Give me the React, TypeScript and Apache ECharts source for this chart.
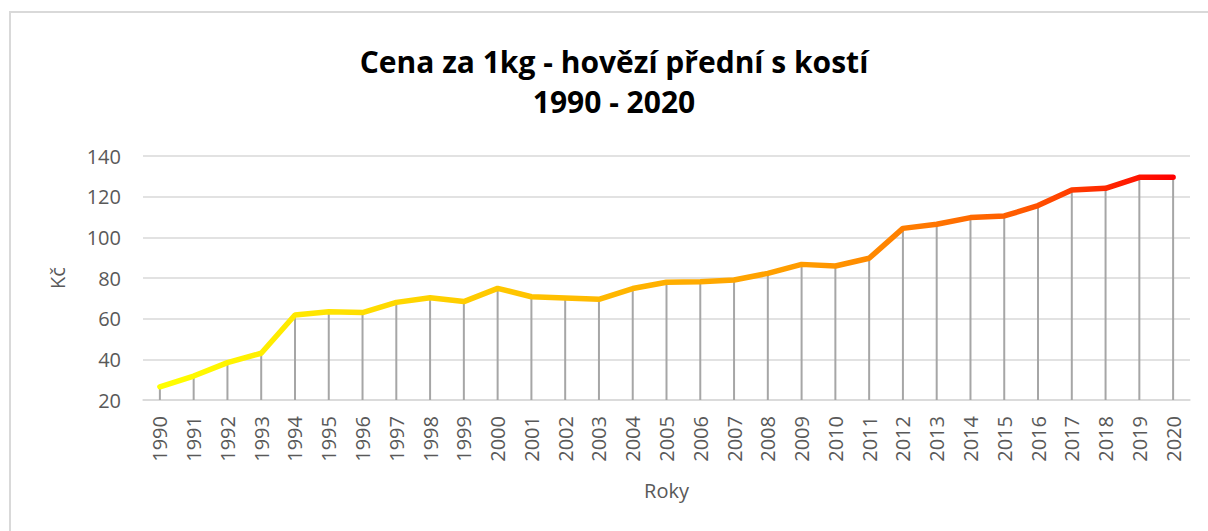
import React, { useEffect, useRef } from "react";
import * as echarts from "echarts";

const years = [
  "1990", "1991", "1992", "1993", "1994", "1995", "1996", "1997", "1998", "1999",
  "2000", "2001", "2002", "2003", "2004", "2005", "2006", "2007", "2008", "2009",
  "2010", "2011", "2012", "2013", "2014", "2015", "2016", "2017", "2018", "2019", "2020",
];
const prices = [
  26.5, 31.8, 38.4, 43.0, 61.8, 63.4, 63.0, 68.0, 70.3, 68.4,
  74.9, 70.8, 70.2, 69.5, 74.8, 77.9, 78.2, 79.0, 82.3, 86.7,
  85.9, 89.7, 104.4, 106.4, 109.7, 110.5, 115.6, 123.3, 124.1, 129.5, 129.5,
];
const titleLines = ["Cena za 1kg - hovězí přední s kostí", "1990 - 2020"];
const xName = "Roky";
const yName = "Kč";

export default function App() {
  const ref = useRef<HTMLDivElement>(null);
  useEffect(() => {
    if (!ref.current) return;
    const chart = echarts.init(ref.current, null, { renderer: "svg" });
    const font = "'Open Sans', sans-serif";
    chart.setOption({
      animation: false,
      backgroundColor: "#ffffff",
      graphic: [
        {
          type: "rect",
          shape: { x: 10, y: 12, width: 1220, height: 540 },
          style: { fill: "none", stroke: "#d9d9d9", lineWidth: 2 },
          silent: true,
        },
        {
          type: "text",
          x: 614,
          y: 61,
          style: {
            text: titleLines[0],
            font: `bold 30px ${font}`,
            fill: "#000000",
            align: "center",
            verticalAlign: "middle",
          },
        },
        {
          type: "text",
          x: 614,
          y: 101,
          style: {
            text: titleLines[1],
            font: `bold 30px ${font}`,
            fill: "#000000",
            align: "center",
            verticalAlign: "middle",
          },
        },
      ],
      grid: { left: 143, right: 18, top: 156, bottom: 131 },
      xAxis: {
        type: "category",
        data: years,
        boundaryGap: true,
        name: xName,
        nameLocation: "middle",
        nameGap: 80,
        nameTextStyle: { color: "#595959", fontSize: 20, fontFamily: font },
        axisLine: { lineStyle: { color: "#d9d9d9", width: 1.5 } },
        axisTick: { show: false },
        axisLabel: {
          rotate: 90,
          color: "#595959",
          fontSize: 20,
          fontFamily: font,
          margin: 16,
          interval: 0,
        },
      },
      yAxis: {
        type: "value",
        min: 20,
        max: 140,
        interval: 20,
        name: yName,
        nameLocation: "middle",
        nameGap: 76,
        nameTextStyle: { color: "#595959", fontSize: 20, fontFamily: font },
        axisLine: { show: false },
        axisTick: { show: false },
        axisLabel: { color: "#595959", fontSize: 20, fontFamily: font, margin: 22 },
        splitLine: { lineStyle: { color: "#d9d9d9", width: 1.5 } },
      },
      series: [
        {
          type: "bar",
          data: prices,
          barWidth: 2,
          itemStyle: { color: "#a6a6a6" },
          clip: true,
          silent: true,
          z: 1,
        },
        {
          type: "line",
          data: prices,
          showSymbol: false,
          symbol: "none",
          z: 3,
          lineStyle: {
            width: 5.5,
            cap: "round",
            color: {
              type: "linear",
              x: 0,
              y: 0,
              x2: 1,
              y2: 0,
              colorStops: [
                { offset: 0, color: "#ffff00" },
                { offset: 0.33, color: "#ffc800" },
                { offset: 0.65, color: "#ff9900" },
                { offset: 0.85, color: "#ff5a00" },
                { offset: 1, color: "#ff0000" },
              ],
            },
          },
        },
      ],
    });
    return () => chart.dispose();
  }, []);
  return (
    <div
      ref={ref}
      style={{ position: "fixed", left: 0, top: 0, width: 1208, height: 531 }}
    />
  );
}
